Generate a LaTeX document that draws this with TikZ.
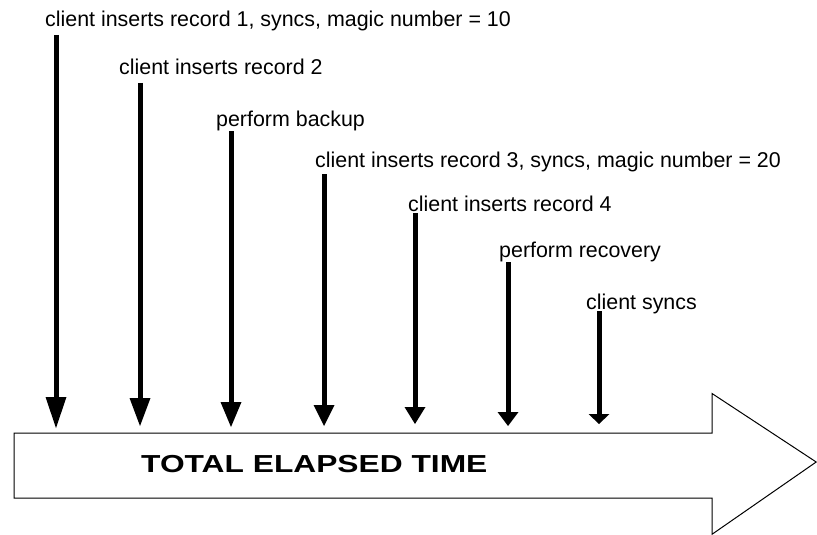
\documentclass[tikz,border=0pt]{standalone}
\usepackage{fontspec}
\setmainfont{Liberation Sans}
\usetikzlibrary{arrows.meta}
\begin{document}
\begin{tikzpicture}[x=1pt,y=-1pt,
  lbl/.style={anchor=base west,inner sep=0pt,font=\fontsize{21.4}{24}\selectfont},
  evt/.style={line width=5pt,-{Triangle[width=21pt,length=#1,line width=0pt]}},
  bigarrow/.style={line width=1pt,draw=black,fill=white}]
\useasboundingbox (0,0) rectangle (817,535);
% big time arrow
\draw[bigarrow] (14,433) -- (712,433) -- (712,393.5) -- (816.2,462) -- (712,534.3) -- (712,498) -- (14,498) -- cycle;
\node[anchor=base west,inner sep=0pt] (total) at (141,472)
  {\scalebox{1.29}[1]{\fontsize{24.6}{28}\selectfont\bfseries TOTAL ELAPSED TIME}};
% labels
\node[lbl] (l1) at (45,27) {client inserts record 1, syncs, magic number = 10};
\node[lbl] (l2) at (119,75) {client inserts record 2};
\node[lbl] (l3) at (216,126) {perform backup};
\node[lbl] (l4) at (315,167) {client inserts record 3, syncs, magic number = 20};
\node[lbl] (l5) at (408,211) {client inserts record 4};
\node[lbl] (l6) at (499,257) {perform recovery};
\node[lbl] (l7) at (586,309) {client syncs};
% arrow ends
\coordinate (t1) at (56,35);   \coordinate (b1) at (56,428);
\coordinate (t2) at (140,83);  \coordinate (b2) at (140,426);
\coordinate (t3) at (231,131); \coordinate (b3) at (231,427);
\coordinate (t4) at (324,174); \coordinate (b4) at (324,426);
\coordinate (t5) at (415,213); \coordinate (b5) at (415,424);
\coordinate (t6) at (508,262); \coordinate (b6) at (508,426);
\coordinate (t7) at (599,311); \coordinate (b7) at (599,424);
\draw[evt=31pt] (t1) -- (b1);
\draw[evt=28pt] (t2) -- (b2);
\draw[evt=25pt] (t3) -- (b3);
\draw[evt=21pt] (t4) -- (b4);
\draw[evt=17pt] (t5) -- (b5);
\draw[evt=14pt] (t6) -- (b6);
\draw[evt=10pt] (t7) -- (b7);
\end{tikzpicture}
\end{document}
